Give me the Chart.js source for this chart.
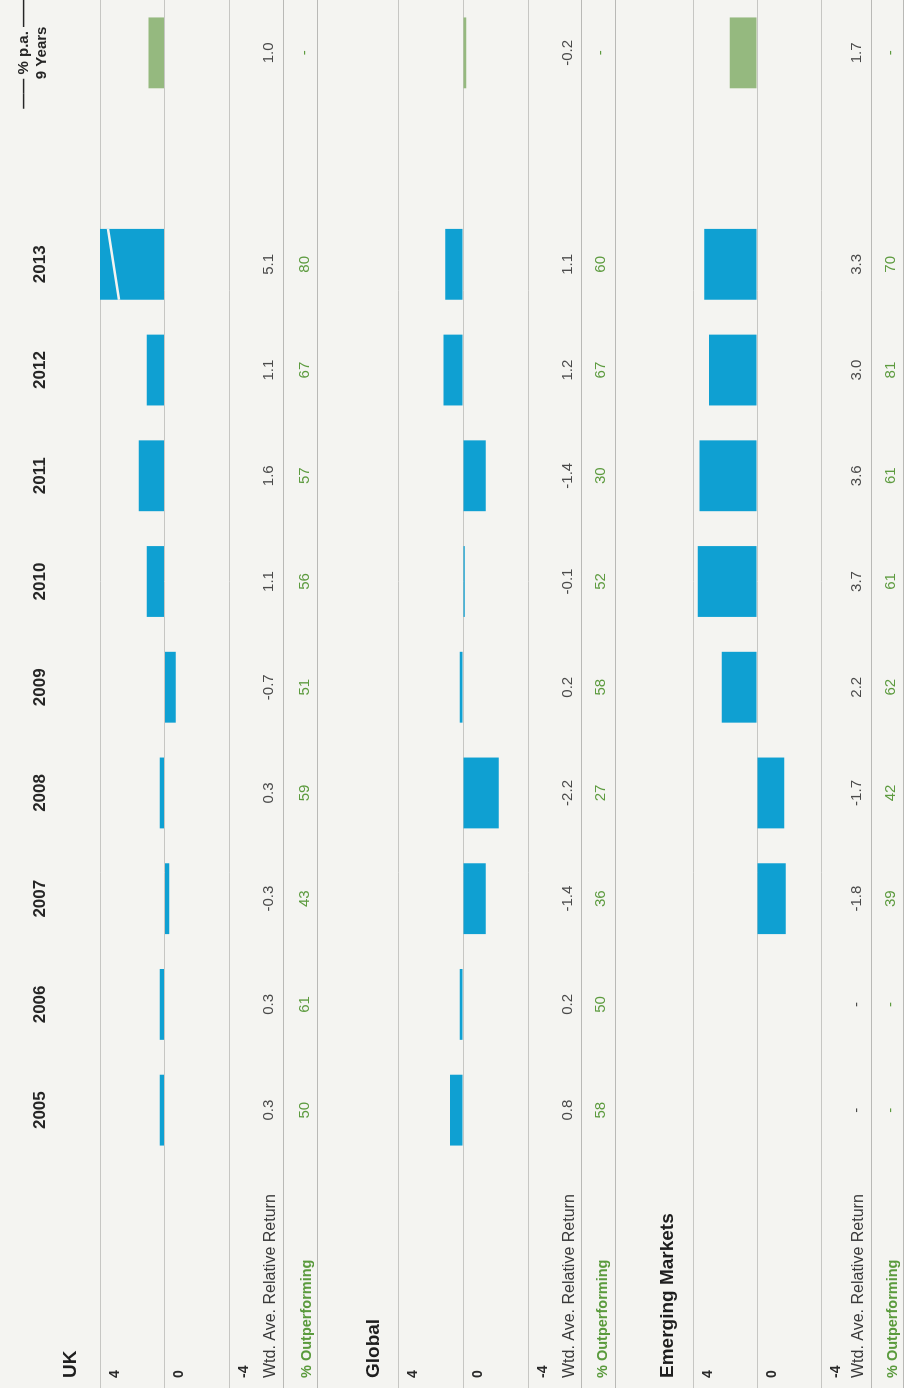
<!DOCTYPE html>
<html>
<head>
<meta charset="utf-8">
<script src="https://cdn.jsdelivr.net/npm/chart.js@4.4.1/dist/chart.umd.min.js"></script>
<style>
  html, body { margin: 0; padding: 0; background: #f4f4f1; overflow: hidden; }
  /* the page is printed sideways: draw it upright, then turn it */
  #page { position: absolute; left: 0; top: 0; width: 1388px; height: 904px;
          transform-origin: 0 0; transform: translateY(1388px) rotate(-90deg); }
  #page canvas { position: absolute; left: 0; }
</style>
</head>
<body>
<div id="page">
  <canvas id="ukChart" width="1388" height="320" style="top:0px"></canvas>
  <canvas id="globalChart" width="1388" height="300" style="top:320px"></canvas>
  <canvas id="emChart" width="1388" height="284" style="top:620px"></canvas>
</div>
<script>
const years = ['2005', '2006', '2007', '2008', '2009', '2010', '2011', '2012', '2013'];
const nineYearLabel = ['—— % p.a. ——', '9 Years'];
const yTicks = [-4, 0, 4];

// wtd. ave. relative return 2005..2013, last one is the 9 year % p.a.
const ukReturn      = [0.3, 0.3, -0.3, 0.3, -0.7, 1.1, 1.6, 1.1, 5.1, 1.0];
const ukOutperf     = [50, 61, 43, 59, 51, 56, 57, 67, 80, null];
const globalReturn  = [0.8, 0.2, -1.4, -2.2, 0.2, -0.1, -1.4, 1.2, 1.1, -0.2];
const globalOutperf = [58, 50, 36, 27, 58, 52, 30, 67, 60, null];
const emReturn      = [null, null, -1.8, -1.7, 2.2, 3.7, 3.6, 3.0, 3.3, 1.7];
const emOutperf     = [null, null, 39, 42, 62, 61, 61, 81, 70, null];

const family = "'Liberation Sans', Arial, sans-serif";
const bgColor = '#f4f4f1';
const blue = '#0fa0d2';
const green = '#95b97f';
const gridColor = '#c6c6c3';
const rowLineColor = '#b9b9b6';

Chart.defaults.font.family = family;

const labels = [...years, '', nineYearLabel];
const withGap = arr => [...arr.slice(0, 9), null, arr[9]];

const panelRows = {
    id: 'panelRows',
    afterDatasetsDraw(chart) {
        // white break stroke on bars running past the top of the axis
        const { ctx, chartArea } = chart;
        const yScale = chart.scales.y;
        const values = chart.data.datasets[0].data;
        chart.getDatasetMeta(0).data.forEach((bar, i) => {
            if (values[i] == null || values[i] <= yScale.max) return;
            const { x, width } = bar.getProps(['x', 'width'], true);
            ctx.save();
            ctx.strokeStyle = bgColor;
            ctx.lineWidth = 2.5;
            ctx.beginPath();
            ctx.moveTo(x + width / 2, chartArea.top + 8);
            ctx.lineTo(x - width / 2, chartArea.top + 19);
            ctx.stroke();
            ctx.restore();
        });
    },
    afterDraw(chart, args, opts) {
        const { ctx, chartArea } = chart;
        const xScale = chart.scales.x;
        const b = chartArea.bottom;
        ctx.save();
        ctx.strokeStyle = rowLineColor;
        ctx.lineWidth = 1;
        [opts.line, opts.end].forEach(off => {
            const yy = Math.round(b + off) + 0.5;
            ctx.beginPath();
            ctx.moveTo(0, yy);
            ctx.lineTo(chart.width, yy);
            ctx.stroke();
        });

        ctx.textBaseline = 'middle';
        ctx.textAlign = 'left';
        ctx.fillStyle = '#1e1e1e';
        ctx.font = `bold 19px ${family}`;
        ctx.fillText(opts.title, 10, chartArea.top - opts.titleOff);

        ctx.fillStyle = '#3a3a3a';
        ctx.font = `16px ${family}`;
        ctx.fillText('Wtd. Ave. Relative Return', 10, b + opts.wtd + 2);
        ctx.fillStyle = '#5a9a3c';
        ctx.font = `bold 14.5px ${family}`;
        ctx.fillText('% Outperforming', 10, b + opts.out + 2);

        ctx.textAlign = 'center';
        let k = 0;
        labels.forEach((lab, i) => {
            if (lab === '') return;
            const px = xScale.getPixelForValue(i);
            const r = opts.returns[k];
            const o = opts.outperf[k];
            k++;
            ctx.fillStyle = '#4a4a4a';
            ctx.font = `15px ${family}`;
            ctx.fillText(r == null ? '-' : r.toFixed(1), px, b + opts.wtd);
            ctx.fillStyle = '#5d9b3f';
            ctx.font = `15px ${family}`;
            ctx.fillText(o == null ? '-' : String(o), px, b + opts.out);
        });
        ctx.restore();
    }
};

function makePanel(id, returns, outperf, rows, padding, showYears) {
    const xAxis = showYears ? {
        position: 'top',
        grid: { display: false },
        border: { display: false },
        ticks: {
            autoSkip: false, maxRotation: 0, minRotation: 0, padding: 41,
            color: '#262626',
            font: c => ({ family, weight: 'bold', size: c.index === labels.length - 1 ? 15 : 17 }),
        },
        afterFit: s => { s.height = 100; s.paddingLeft = 0; s.paddingRight = 0; },
    } : { display: false };

    new Chart(document.getElementById(id), {
        type: 'bar',
        data: {
            labels,
            datasets: [{
                data: withGap(returns),
                backgroundColor: c => c.dataIndex === labels.length - 1 ? green : blue,
                barPercentage: 0.67,
                categoryPercentage: 1.0,
                clip: 0,
            }],
        },
        options: {
            responsive: false,
            animation: false,
            events: [],
            layout: { padding },
            plugins: {
                legend: { display: false },
                tooltip: { enabled: false },
                panelRows: rows,
            },
            scales: {
                x: xAxis,
                y: {
                    min: yTicks[0], max: yTicks[2],
                    grid: { color: gridColor, lineWidth: 1, tickLength: 225 },
                    border: { display: false },
                    ticks: {
                        stepSize: 4, crossAlign: 'far', labelOffset: 15,
                        color: '#2a2a2a', font: { size: 14, weight: 'bold' },
                    },
                    afterFit: s => { s.width = 215; s.paddingTop = 0; s.paddingBottom = 0; },
                },
            },
        },
        plugins: [panelRows],
    });
}

makePanel('ukChart', ukReturn, ukOutperf,
    { title: 'UK', titleOff: 29, wtd: 40, line: 54, out: 76, end: 88, returns: ukReturn, outperf: ukOutperf },
    { left: 10, top: 0, right: 0, bottom: 91 }, true);
makePanel('globalChart', globalReturn, globalOutperf,
    { title: 'Global', titleOff: 24, wtd: 40, line: 53, out: 73, end: 87, returns: globalReturn, outperf: globalOutperf },
    { left: 10, top: 78, right: 0, bottom: 92 }, false);
makePanel('emChart', emReturn, emOutperf,
    { title: 'Emerging Markets', titleOff: 25, wtd: 36, line: 50, out: 70, end: 82, returns: emReturn, outperf: emOutperf },
    { left: 10, top: 73, right: 0, bottom: 83 }, false);
</script>
</body>
</html>
